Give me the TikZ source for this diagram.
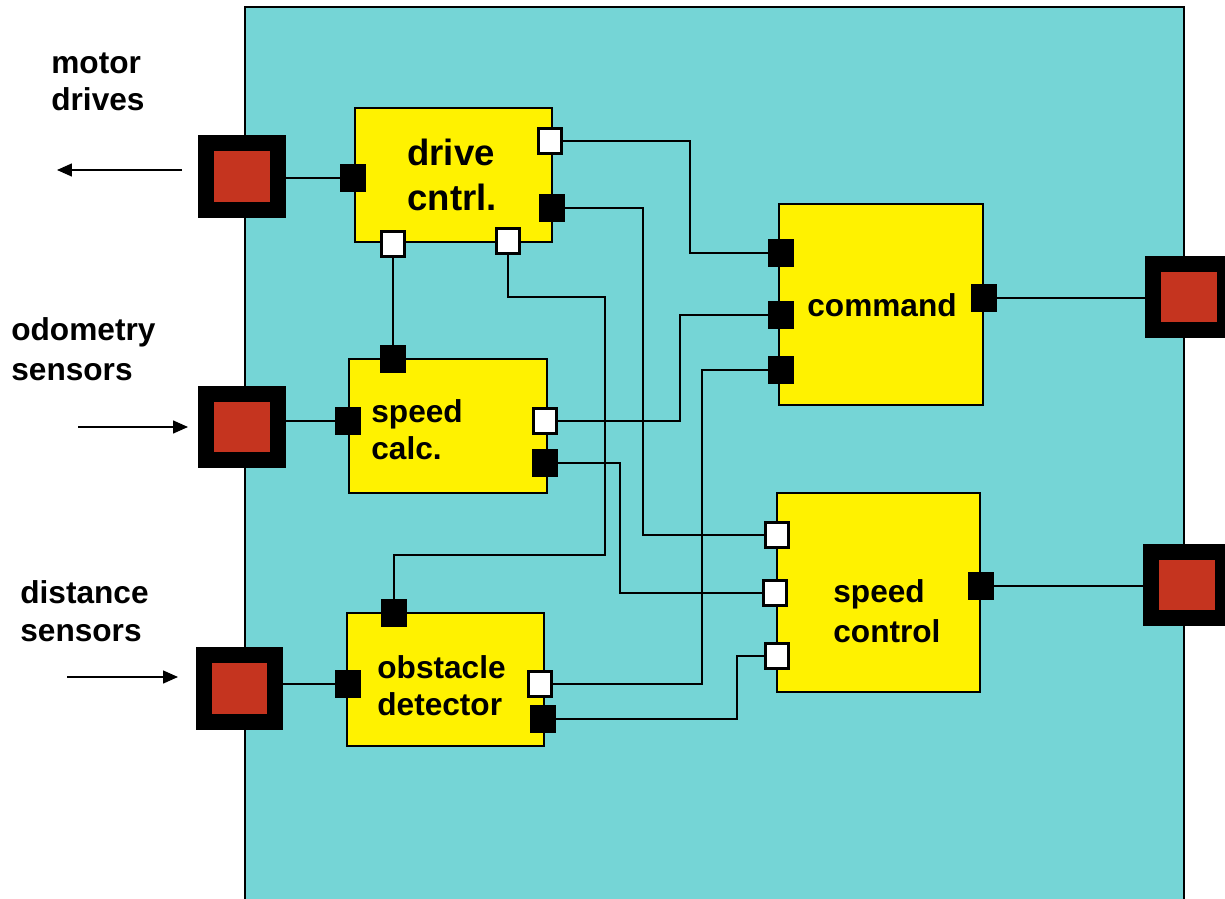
\documentclass[tikz,border=0pt]{standalone}
\usepackage{fontspec}
\setmainfont{Liberation Sans}
\usetikzlibrary{arrows.meta, positioning}
\definecolor{bgcyan}{RGB}{117,213,214}
\definecolor{portred}{RGB}{197,52,31}

\begin{document}
\begin{tikzpicture}[
        x=0.02cm, y=-0.02cm,
        block/.style={draw, fill=yellow, line width=1.1pt, inner sep=0pt},
        pblack/.style={draw, fill=black, minimum width=0.5cm, minimum height=0.55cm, inner sep=0pt},
        pwhite/.style={draw, fill=white, line width=1.2pt, minimum width=0.46cm, minimum height=0.5cm, inner sep=0pt},
        ext/.style={draw=black, fill=portred, line width=0.32cm, minimum width=1.44cm, minimum height=1.34cm, inner sep=0pt},
        txt/.style={inner sep=0pt, anchor=base west, align=left, font=\bfseries\fontsize{18}{21}\selectfont},
        wire/.style={line width=0.85pt},
        arrow/.style={-{Triangle[length=0.3cm, width=0.26cm]}, line width=0.85pt}
    ]
        \useasboundingbox (0,0) rectangle (1225,899);
        \draw[fill=bgcyan, line width=1.1pt] (245,7) rectangle (1184,940);

        % blocks
        \node[block, minimum width=3.94cm, minimum height=2.68cm] (drive) at (453.5,175) {};
        \node[block, minimum width=3.96cm, minimum height=2.68cm] (calc) at (448,426) {};
        \node[block, minimum width=3.94cm, minimum height=2.66cm] (obst) at (445.5,679.5) {};
        \node[block, minimum width=4.08cm, minimum height=4.02cm] (cmd) at (881,304.5) {};
        \node[block, minimum width=4.06cm, minimum height=3.98cm] (ctrl) at (878.5,592.5) {};

        % base anchor sits on the last line
        \node[txt, font=\bfseries\fontsize{20.8}{25.6}\selectfont] (drive-txt) at (407,210) {drive\\cntrl.};
        \node[txt] (calc-txt) at (371,459) {speed\\calc.};
        \node[txt, font=\bfseries\fontsize{18}{20.5}\selectfont] (obst-txt) at (377,715) {obstacle\\detector};
        \node[txt] (cmd-txt) at (807,316) {command};
        \node[txt, font=\bfseries\fontsize{18}{22.2}\selectfont] (ctrl-txt) at (833,642) {speed\\control};

        % ports
        \node[pblack] (drive-in) at (353,178) {};
        \node[pwhite] (drive-o1) at (550,141) {};
        \node[pblack] (drive-o2) at (552,208) {};
        \node[pwhite] (drive-b1) at (393,244) {};
        \node[pwhite] (drive-b2) at (508,241) {};
        \node[pblack] (calc-t) at (393,359) {};
        \node[pblack] (calc-in) at (348,421) {};
        \node[pwhite] (calc-o1) at (545,421) {};
        \node[pblack] (calc-o2) at (545,463) {};
        \node[pblack] (obst-t) at (394,613) {};
        \node[pblack] (obst-in) at (348,684) {};
        \node[pwhite] (obst-o1) at (540,684) {};
        \node[pblack] (obst-o2) at (543,719) {};
        \node[pblack] (cmd-i1) at (781,253) {};
        \node[pblack] (cmd-i2) at (781,315) {};
        \node[pblack] (cmd-i3) at (781,370) {};
        \node[pblack] (cmd-out) at (984,298) {};
        \node[pwhite] (ctrl-i1) at (777,535) {};
        \node[pwhite] (ctrl-i2) at (775,593) {};
        \node[pwhite] (ctrl-i3) at (777,656) {};
        \node[pblack] (ctrl-out) at (981,586) {};

        % outer ports
        \node[ext] (motor) at (242,176.5) {};
        \node[ext] (odom) at (242,427) {};
        \node[ext] (dist) at (239.5,688.5) {};
        \node[ext] (cmd-x) at (1189,297) {};
        \node[ext] (ctrl-x) at (1187,585) {};

        \draw[wire] (drive-in) -- (drive-in -| motor.east);
        \draw[wire] (calc-in) -- (calc-in -| odom.east);
        \draw[wire] (obst-in) -- (obst-in -| dist.east);
        \draw[wire] (cmd-out) -- (cmd-out -| cmd-x.west);
        \draw[wire] (ctrl-out) -- (ctrl-out -| ctrl-x.west);

        \draw[wire] (drive-o1) -| (690,0 |- cmd-i1) -- (cmd-i1);
        \draw[wire] (drive-o2) -| (643,0 |- ctrl-i1) -- (ctrl-i1);
        \draw[wire] (drive-b1) -- (calc-t);
        \draw[wire] (drive-b2) |- (605,297) |- (394,555) -- (obst-t);
        \draw[wire] (calc-o1) -| (680,0 |- cmd-i2) -- (cmd-i2);
        \draw[wire] (calc-o2) -| (620,0 |- ctrl-i2) -- (ctrl-i2);
        \draw[wire] (obst-o1) -| (702,0 |- cmd-i3) -- (cmd-i3);
        \draw[wire] (obst-o2) -| (737,0 |- ctrl-i3) -- (ctrl-i3);

        % outside
        \node[txt] (motor-lbl) at (51,110) {motor\\drives};
        \node[txt, font=\bfseries\fontsize{18}{22.5}\selectfont] (odom-lbl) at (11,380) {odometry\\sensors};
        \node[txt, font=\bfseries\fontsize{18}{21.6}\selectfont] (dist-lbl) at (20,641) {distance\\sensors};

        \coordinate (motor-a) at (182,170);
        \coordinate (motor-b) at (57,170);
        \coordinate (odom-a) at (78,427);
        \coordinate (odom-b) at (188,427);
        \coordinate (dist-a) at (67,677);
        \coordinate (dist-b) at (178,677);
        \draw[arrow] (motor-a) -- (motor-b);
        \draw[arrow] (odom-a) -- (odom-b);
        \draw[arrow] (dist-a) -- (dist-b);
    \end{tikzpicture}
\end{document}
